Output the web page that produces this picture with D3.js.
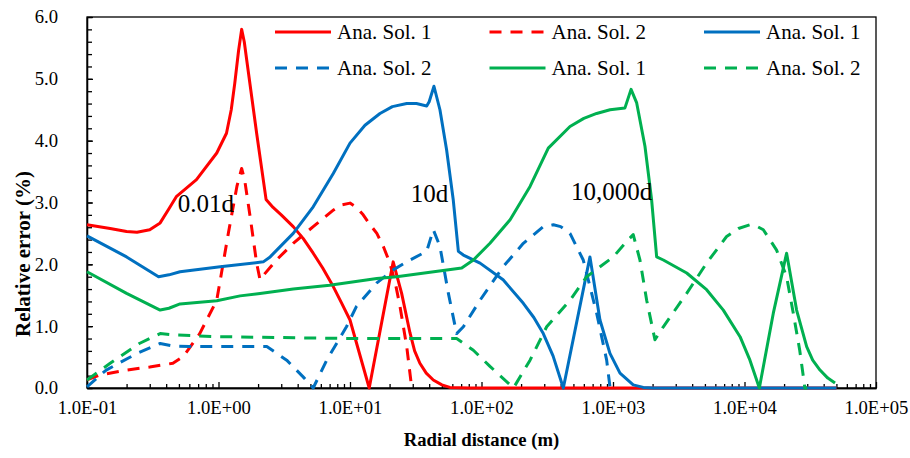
<!DOCTYPE html>
<html>

<head>
  <meta charset="utf-8">
  <title>Relative error vs radial distance</title>
  <style>
    body { margin: 0; background: #fff; }
    text { font-family: "Liberation Serif", "Times New Roman", serif; fill: #000; }
    .axis path, .axis line { stroke: #000; stroke-width: 1.3px; }
    .axis text { font-size: 18.67px; }
    .series { fill: none; stroke-width: 3px; stroke-linejoin: round; }
  </style>
</head>

<body>
  <svg width="910" height="458"></svg>

  <script src="https://d3js.org/d3.v7.min.js"></script>
  <script>
    // data: [radial distance (m), relative error (%)]
    var red1 = [[0.1,2.64],[0.15,2.58],[0.2,2.53],[0.24,2.52],[0.3,2.56],[0.36,2.67],[0.42,2.9],[0.48,3.10],
      [0.68,3.37],[0.97,3.80],[1.15,4.12],[1.25,4.5],[1.33,4.93],[1.42,5.45],[1.5,5.80],[1.57,5.6],[1.64,5.3],
      [1.95,4.12],[2.3,3.05],[2.6,2.92],[3,2.8],[3.7,2.61],[4.4,2.42],[5.25,2.18],[6.2,1.94],[7.46,1.64],
      [8.6,1.38],[10,1.10],[14,0.0],[21.3,2.04],[24.7,1.53],[28.6,0.89],[31,0.6],[34,0.40],[38,0.24],[43,0.13],
      [50,0.05],[57.5,0.01],[80,0],[50000,0]];
    var red2 = [[0.1,0.13],[0.125,0.21],[0.2,0.29],[0.3,0.34],[0.45,0.40],[0.54,0.51],[0.72,0.88],[0.97,1.42],
      [1.19,2.51],[1.38,3.26],[1.5,3.55],[1.58,3.37],[1.74,2.77],[1.95,2.02],[2.07,1.75],[2.15,1.80],[2.76,2.07],
      [3.7,2.34],[5.25,2.61],[7.5,2.88],[8.6,2.96],[10,2.99],[11.2,2.92],[12.6,2.80],[14,2.66],[16,2.50],
      [18,2.28],[20.1,2.02],[22,1.72],[24,1.32],[27,0.67],[29.4,0.02],[30,0]];
    var blue1 = [[0.1,2.46],[0.2,2.12],[0.35,1.80],[0.42,1.83],[0.51,1.88],[1.03,1.96],[2.19,2.04],[2.47,2.12],
      [3.7,2.50],[5.25,2.93],[7.46,3.47],[10,3.96],[13,4.25],[16.9,4.44],[21,4.55],[27,4.60],[32,4.60],
      [38.3,4.56],[40,4.63],[43.5,4.88],[48.3,4.50],[54.3,3.85],[61,3.04],[66.7,2.21],[72.8,2.15],[97.5,2.02],
      [146,1.75],[208,1.37],[250,1.14],[295,0.88],[350,0.52],[419,0],[668,2.12],[796,1.10],[948,0.56],
      [1130,0.24],[1425,0.05],[1700,0.01],[2020,0],[50000,0]];
    var blue2 = [[0.1,0.02],[0.14,0.29],[0.24,0.56],[0.36,0.72],[0.45,0.68],[0.6,0.67],[2.33,0.67],[3.3,0.45],
      [4.4,0.18],[5.25,0],[6.65,0.45],[9.4,0.99],[11.2,1.32],[16,1.70],[21.3,1.91],[28.6,2.07],[38.3,2.21],
      [43,2.56],[48.3,2.29],[56,1.53],[64.7,0.88],[72.8,0.99],[97.5,1.42],[146,1.96],[208,2.34],[295,2.61],
      [352,2.64],[400,2.61],[471,2.50],[594,2.07],[751,1.21],[895,0.45],[948,0.02],[1000,0]];
    var green1 = [[0.1,1.88],[0.2,1.53],[0.36,1.26],[0.42,1.29],[0.51,1.36],[0.97,1.41],[1.46,1.49],[2.07,1.53],
      [3.7,1.60],[7,1.66],[16,1.77],[22.6,1.80],[70.7,1.94],[86.7,2.07],[116,2.34],[165,2.72],[234,3.26],
      [322,3.88],[471,4.23],[600,4.36],[751,4.44],[950,4.50],[1233,4.53],[1372,4.83],[1514,4.61],[1750,3.91],
      [1967,3.04],[2148,2.12],[2414,2.07],[3633,1.86],[5150,1.59],[6900,1.26],[9250,0.83],[11000,0.45],
      [12970,0],[16560,1.21],[20900,2.18],[24900,1.26],[29700,0.67],[33000,0.45],[37500,0.29],[43000,0.16],
      [48800,0.08]];
    var green2 = [[0.1,0.13],[0.15,0.40],[0.25,0.72],[0.36,0.88],[0.45,0.86],[1,0.83],[10,0.80],[64.7,0.80],
      [86.7,0.61],[116,0.35],[175,0],[234,0.45],[313,0.99],[471,1.42],[631,1.80],[1005,2.12],[1270,2.37],
      [1425,2.48],[1603,2.07],[1803,1.42],[2084,0.78],[2414,0.99],[3633,1.53],[5150,2.02],[7310,2.45],
      [9000,2.58],[11000,2.64],[12300,2.62],[13900,2.56],[17540,2.23],[20900,1.80],[23500,1.21],[26300,0.61],
      [28800,0],[30000,0]];

    var seriesNames = ["Ana. Sol. 1", "Ana. Sol. 2", "Ana. Sol. 1", "Ana. Sol. 2", "Ana. Sol. 1", "Ana. Sol. 2"];
    var seriesColors = ["#ff0000", "#ff0000", "#0070c0", "#0070c0", "#00b050", "#00b050"];
    var seriesDashed = [false, true, false, true, false, true];
    var seriesData = [red1, red2, blue1, blue2, green1, green2];

    var xTicks = [0.1, 1, 10, 100, 1000, 10000, 100000];
    var yTicks = [0, 1, 2, 3, 4, 5, 6];
    var labels = [{ text: "0.01d", x: 0.49, y: 2.85 }, { text: "10d", x: 29, y: 3.01 }, { text: "10,000d", x: 480, y: 3.04 }];

    var plotLeft = 87, plotRight = 876, plotTop = 17, plotBottom = 388;

    var svg = d3.select("svg");

    var x = d3.scaleLog().domain([0.1, 100000]).range([plotLeft, plotRight]);
    var y = d3.scaleLinear().domain([0, 6]).range([plotBottom, plotTop]);

    // minor ticks
    var xMinor = [];
    for (var e = -1; e < 5; e++) {
      for (var m = 2; m < 10; m++) xMinor.push(m * Math.pow(10, e));
    }
    var yMinor = d3.range(0, 6.01, 0.2);

    svg.append("g")
      .attr("class", "axis")
      .attr("transform", "translate(0," + plotBottom + ")")
      .call(d3.axisBottom(x).tickValues(xMinor).tickSize(-4).tickSizeOuter(0).tickFormat(""));

    svg.append("g")
      .attr("class", "axis")
      .attr("transform", "translate(" + plotLeft + ",0)")
      .call(d3.axisLeft(y).tickValues(yMinor).tickSize(-5).tickSizeOuter(0).tickFormat(""));

    svg.append("g")
      .attr("class", "axis")
      .attr("transform", "translate(0," + plotBottom + ")")
      .call(d3.axisBottom(x).tickValues(xTicks).tickSize(-6).tickSizeOuter(0).tickPadding(13)
        .tickFormat(function (d) {
          var p = Math.round(Math.log10(d));
          return "1.0E" + (p < 0 ? "-" : "+") + String(Math.abs(p)).padStart(2, "0");
        }));

    svg.append("g")
      .attr("class", "axis")
      .attr("transform", "translate(" + plotLeft + ",0)")
      .call(d3.axisLeft(y).tickValues(yTicks).tickSize(-6).tickSizeOuter(0).tickPadding(29)
        .tickFormat(d3.format(".1f")));

    // plot border
    svg.append("rect")
      .attr("x", plotLeft).attr("y", plotTop)
      .attr("width", plotRight - plotLeft).attr("height", plotBottom - plotTop)
      .attr("fill", "none").attr("stroke", "#000").attr("stroke-width", 1.3);

    var line = d3.line()
      .x(function (d) { return x(d[0]); })
      .y(function (d) { return y(d[1]); });

    svg.selectAll(".series")
      .data(seriesData)
      .enter().append("path")
      .attr("class", "series")
      .attr("d", line)
      .attr("stroke", function (d, i) { return seriesColors[i]; })
      .attr("stroke-dasharray", function (d, i) { return seriesDashed[i] ? "12,9" : null; });

    // annotations
    svg.selectAll(".note")
      .data(labels)
      .enter().append("text")
      .attr("class", "note")
      .attr("x", function (d) { return x(d.x); })
      .attr("y", function (d) { return y(d.y); })
      .attr("font-size", "25px")
      .text(function (d) { return d.text; });

    // legend
    var legend = svg.append("g");
    seriesNames.forEach(function (name, i) {
      var col = i % 3, row = Math.floor(i / 3);
      var lx = 275 + col * 214.5, ly = 32 + row * 36;
      legend.append("line")
        .attr("x1", lx).attr("x2", lx + 56)
        .attr("y1", ly).attr("y2", ly)
        .attr("stroke", seriesColors[i]).attr("stroke-width", 3)
        .attr("stroke-dasharray", seriesDashed[i] ? "12,9" : null);
      legend.append("text")
        .attr("x", lx + 62).attr("y", ly)
        .attr("dy", "0.35em")
        .attr("font-size", "21px")
        .text(name);
    });

    // axis titles
    svg.append("text")
      .attr("x", (plotLeft + plotRight) / 2).attr("y", 446)
      .attr("text-anchor", "middle")
      .attr("font-size", "18.67px").attr("font-weight", "bold")
      .text("Radial distance (m)");

    svg.append("text")
      .attr("transform", "translate(30,254) rotate(-90)")
      .attr("text-anchor", "middle")
      .attr("font-size", "21px").attr("font-weight", "bold")
      .text("Relative error (%)");
  </script>
</body>

</html>
